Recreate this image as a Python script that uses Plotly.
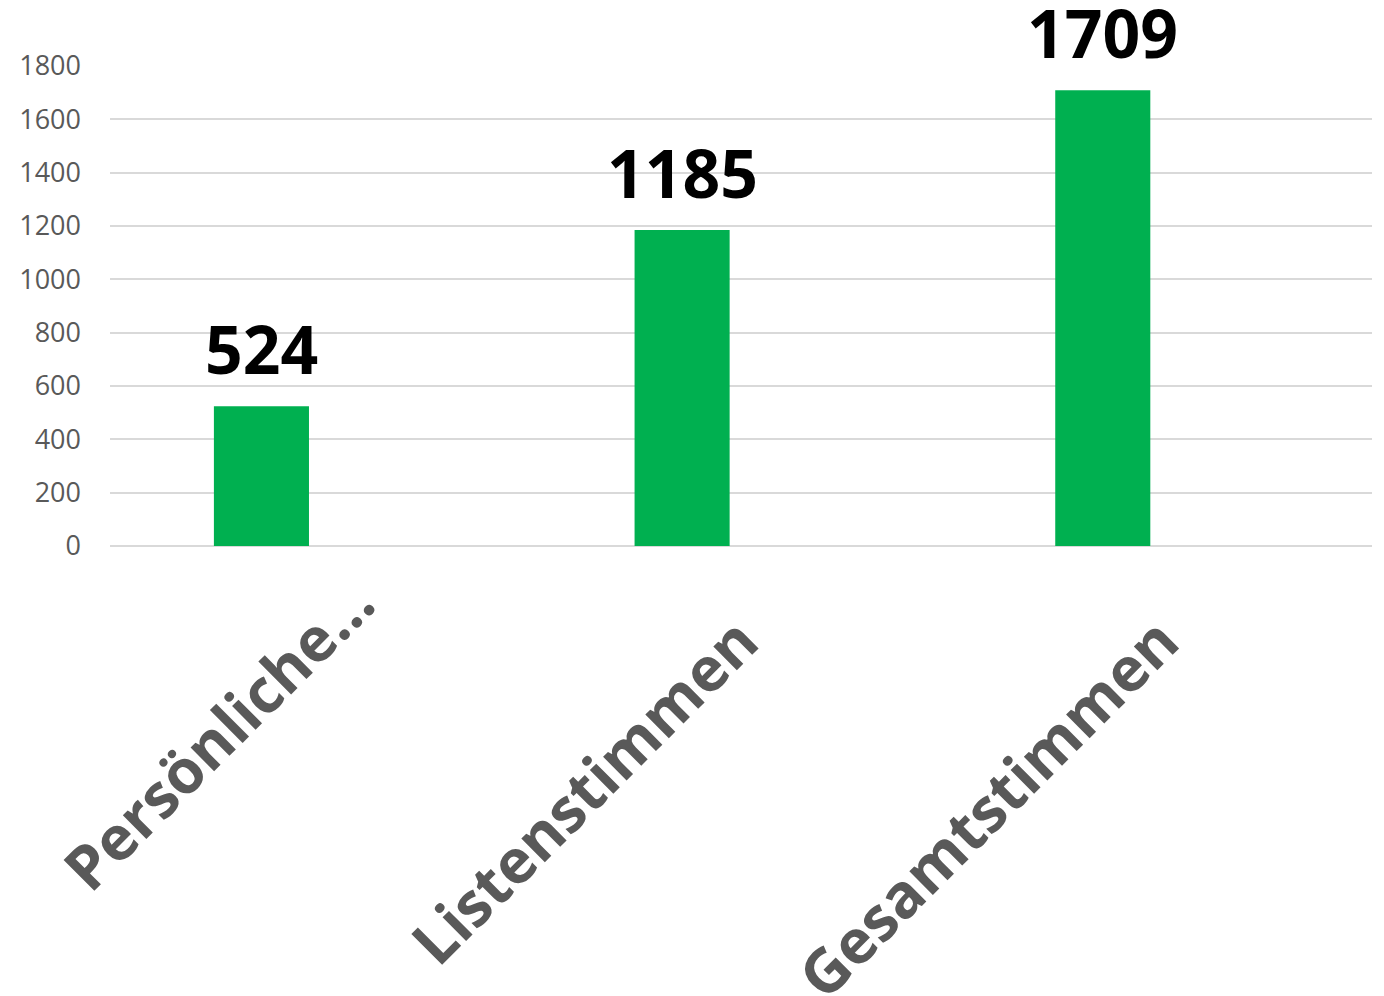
import plotly.graph_objects as go

categories = ["Persönliche...", "Listenstimmen", "Gesamtstimmen"]
values = [524, 1185, 1709]
y_ticks = [0, 200, 400, 600, 800, 1000, 1200, 1400, 1600, 1800]

fig = go.Figure()
fig.add_trace(go.Bar(
    x=categories,
    y=values,
    marker=dict(color="#00B050", line=dict(width=0)),
    hoverinfo="x+y",
))

# value labels above the bars
for cat, val in zip(categories, values):
    fig.add_annotation(
        x=cat, y=val, xref="x", yref="y",
        text=str(val), showarrow=False,
        xanchor="center", yanchor="bottom", yshift=11,
        font=dict(family="Open Sans", size=66, color="#000000", weight="bold"),
    )

# rotated category labels (per-label offsets as in the reference)
label_shift = {"Persönliche...": (132, -12), "Listenstimmen": (95, -51), "Gesamtstimmen": (95, -51)}
for cat in categories:
    dx, dy = label_shift[cat]
    fig.add_annotation(
        x=cat, y=0, xref="x", yref="paper",
        text=cat, showarrow=False, textangle=-45,
        xanchor="right", yanchor="top", xshift=dx, yshift=dy,
        font=dict(family="Open Sans", size=61, color="#595959", weight="bold"),
    )

# page body adds an 8px offset, so the figure is sized to fit the window
fig.update_layout(
    width=1376,
    height=988,
    margin=dict(l=102, r=12, t=58, b=450),
    paper_bgcolor="white",
    plot_bgcolor="white",
    bargap=0.774,
    showlegend=False,
    xaxis=dict(
        range=[-0.36, 2.64],
        automargin=False,
        showticklabels=False,
        showgrid=False,
        showline=False,
        ticks="",
    ),
    yaxis=dict(
        range=[0, 1800],
        automargin=False,
        tickvals=y_ticks,
        ticktext=[str(t) for t in y_ticks],
        tickfont=dict(family="Open Sans", size=27, color="#595959"),
        showgrid=True,
        gridcolor="#D9D9D9",
        gridwidth=1.5,
        zeroline=True,
        zerolinecolor="#D9D9D9",
        zerolinewidth=1.5,
        showline=False,
        ticks="",
        ticklabelstandoff=28,
    ),
)

fig.write_html("out.html")
